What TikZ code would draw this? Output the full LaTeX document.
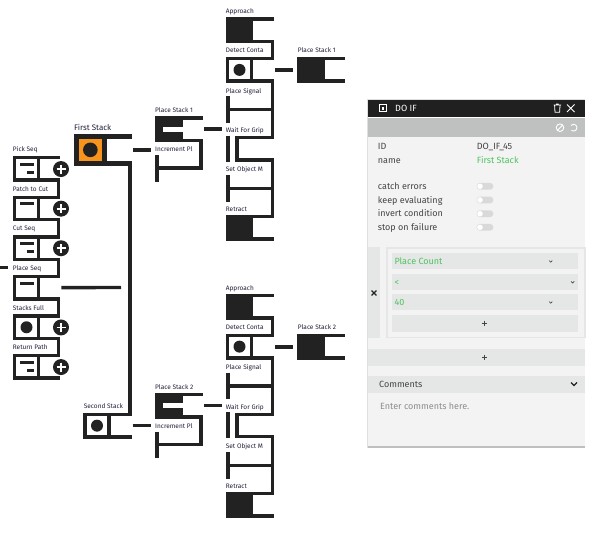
\documentclass[tikz,border=0pt]{standalone}
\usepackage{fontspec}
\setmainfont{Fira Sans}
\definecolor{ink}{HTML}{222222}
\definecolor{stackorange}{HTML}{F7941D}
\definecolor{okgreen}{HTML}{4DC35F}
\definecolor{panelbg}{HTML}{F3F3F3}
\definecolor{fieldbg}{HTML}{E5E6E6}
\definecolor{headgray}{HTML}{BFC0C0}
\definecolor{txtgray}{HTML}{444444}
\tikzset{
    bar/.style={draw=ink,line width=3.4pt},
    cell/.style={draw=ink,fill=white,line width=3.4pt,minimum width=24.2pt,minimum height=22.4pt,inner sep=0pt,outer sep=0pt},
    solidcell/.style={cell,fill=ink},
    dotmark/.style={circle,fill=ink,minimum size=12pt,inner sep=0pt},
    addbtn/.style={circle,fill=ink,minimum size=16pt,inner sep=0pt},
    seqlabel/.style={anchor=base west,inner sep=0pt,font=\fontsize{6.5}{8}\selectfont,text=ink!90!blue},
    paneltext/.style={anchor=base west,inner sep=0pt,font=\fontsize{9}{10}\selectfont,text=txtgray},
    greentext/.style={paneltext,text=okgreen},
    chev/.style={draw=txtgray,line width=.7pt},
    plusmark/.style={draw=txtgray,line width=.7pt}
}
\begin{document}
\begin{tikzpicture}[x=1pt,y=-1pt]
\useasboundingbox (0,0) rectangle (600,533);
% sequence column
\foreach \t/\n/\txt in {156/pick/Pick Seq,195.6/patch/Patch to Cut,235.2/cutseq/Cut Seq,274.8/placeseq/Place Seq,314.4/stacks/Stacks Full,354/ret/Return Path}
{
    \node[cell] (\n) at (26.5,\t+12.85) {};
    \node[seqlabel] (\n-label) at (12.7,\t-4.4) {\txt};
}
\draw[bar] (pick.north east) -- ++(21.7,0);
\draw[bar] (ret.south east) -- ++(21.7,0);
\foreach \a/\b in {pick/patch,patch/cutseq,cutseq/placeseq,placeseq/stacks,stacks/ret}
{
    \draw[bar] (\a.south east) -- ++(20,0) |- (\b.north east);
}
\foreach \n in {pick,cutseq,ret}
{
    \fill[ink] (\n.center) ++(-7,-6) rectangle ++(14,3);
    \fill[ink] (\n.center) ++(0,2) rectangle ++(7,3);
}
\foreach \n in {patch,placeseq}
{
    \fill[ink] (\n.center) ++(-7,-6) rectangle ++(14,3);
}
\node[dotmark] (stacksdot) at (stacks) {};
\foreach \n in {pick,patch,cutseq,stacks,ret}
{
    \node[addbtn] (\n-add) at ([shift={(34.5,0.2)}]\n.center) {};
    \draw[white,line width=1.8pt] (\n-add.center) ++(-4.5,0) -- ++(9,0) (\n-add.center) ++(0,-4.5) -- ++(0,9);
}
\coordinate (offleft) at (0,267.5);
\coordinate (seqend) at (121,287.5);
\draw[bar,shorten >=4.5pt] (offleft) -- (offleft -| placeseq-label.west);
\draw[bar,shorten <=22.7pt] (placeseq.east) -- (seqend);
% the two stacks
\node[solidcell,fill=stackorange,line width=4.5pt,minimum width=28.2pt,minimum height=27.2pt] (first) at (90.35,149.85) {};
\node[dotmark,minimum size=14.6pt] (firstdot) at (first) {};
\node[cell] (second) at (97,425.65) {};
\node[dotmark] (seconddot) at (second) {};
\node[seqlabel,font=\fontsize{8}{10}\selectfont] (firstlabel) at (74,130) {First Stack};
\node[seqlabel] (secondlabel) at (83.7,408.4) {Second Stack};
\draw[bar,line width=4.5pt] (first.north east) -- ++(27.25,0);
\draw[bar,line width=4.5pt] (first.south east) -- ++(27.25,0);
\draw[bar] (first.south east) -- ++(25.55,0) |- (second.north east);
\draw[bar] (second.south east) -- ++(22.6,0);
% one group for each stack
\foreach \dy/\n in {0/1,276.7/2}
{
\begin{scope}[shift={(0,\dy)}]
    \node[solidcell] (place\n) at (168.85,129) {};
    \fill[white] (162.7,126.7) rectangle (182.8,131.7);
    \node[seqlabel] (placelabel\n) at (155,112.3) {Place Stack \n};
    \node[seqlabel] (incr\n) at (155,151.6) {Increment Pl};
    \draw[bar] (place\n.north east) -- ++(21.75,0);
    \coordinate (tee\n) at (157,168);
    \draw[bar] (place\n.south east) -- ++(20.05,0) |- (tee\n);
    \draw[bar,line width=4pt] (tee\n) ++(0,-13) -- ++(0,26.5);
    \node[solidcell] (approach\n) at (239.5,30.2) {};
    \node[cell] (detect\n) at (239.5,69.9) {};
    \node[dotmark] (detectdot\n) at (detect\n) {};
    \node[solidcell] (retract\n) at (239.5,227.9) {};
    \node[solidcell] (target\n) at (311.1,69.9) {};
    \node[seqlabel] (approachlabel\n) at (225.7,13.6) {Approach};
    \node[seqlabel] (detectlabel\n) at (225.7,52.3) {Detect Conta};
    \node[seqlabel] (signal\n) at (225.7,93) {Place Signal};
    \node[seqlabel] (wait\n) at (225.7,132.3) {Wait For Grip};
    \node[seqlabel] (setobject\n) at (225.7,171.6) {Set Object M};
    \node[seqlabel] (retractlabel\n) at (225.7,211.3) {Retract};
    \node[seqlabel] (targetlabel\n) at (297.7,52.6) {Place Stack \n};
    \draw[bar,line width=4pt,shorten <=23.4pt,shorten >=5.7pt] (detect\n) -- (target\n);
    \draw[bar,shorten <=23pt,shorten >=4pt] (place\n.east) -- (place\n.east -| wait\n.west);
    \draw[bar] (approach\n.north east) -- ++(22.4,0);
    \draw[bar] (approach\n.south east) -- ++(20.7,0) |- (detect\n.north east);
    \draw[bar] (target\n.north east) -- ++(21.8,0);
    \draw[bar] (target\n.south east) -- ++(21.8,0);
    % tees and the gripper bracket on the rail
    \coordinate (teea\n) at (227.8,109.3);
    \coordinate (teeb\n) at (227.8,188.7);
    \draw[bar] (detect\n.south east) -- ++(20.7,0) |- (teea\n);
    \draw[bar] (272.3,109.3) -- (272.3,137.5) -- (236.9,137.5) -- (236.9,160) -- (274,160);
    \draw[bar] (272.3,160) |- (teeb\n);
    \draw[bar] (272.3,188.7) |- (retract\n.north east);
    \draw[bar] (retract\n.south east) -- ++(22.4,0);
    \draw[bar,line width=4.3pt] (teea\n) ++(0,-13.3) -- ++(0,26.6);
    \draw[bar,line width=4.3pt] (teeb\n) ++(0,-13.3) -- ++(0,26.6);
    \draw[bar,line width=4.3pt] (227.8,135.7) -- (227.8,161.7);
\end{scope}
}
\draw[bar,shorten <=28.3pt,shorten >=4.3pt] (first.east) -- (first.east -| incr1.west);
\draw[bar,shorten <=23.6pt,shorten >=4.3pt] (second.east) -- (second.east -| incr2.west);
% properties panel
\fill[gray!25] (367,99) rectangle (585,447.5);
\fill[gray!50] (367.5,445.5) rectangle (585,447.5);
\fill[ink!95!black] (368,99.5) rectangle (585,117);
\fill[white] (368,117) rectangle (585,118.3);
\fill[headgray] (368,118.3) rectangle (585,136.7);
\fill[panelbg] (368,136.7) rectangle (585,445.5);
\draw[white,line width=.9pt] (379,104.8) rectangle (386.5,111.8);
\fill[white] (381.5,107) rectangle (384,109.5);
\node[paneltext,text=white] (paneltitle) at (395,111.5) {DO IF};
\draw[white,line width=.8pt] (554.6,105.5) -- (555,112.3) -- (559.6,112.3) -- (560,105.5) (553.5,105) -- (561,105) (556,104) -- (558.6,104);
\draw[white,line width=.8pt] (567,104.5) -- (574.5,112) (574.5,104.5) -- (567,112);
\draw[white,line width=.9pt] (560,127.7) circle (3.8pt) (557.3,130.4) -- (562.7,125);
\draw[white,line width=.9pt] (571,125.5) arc[start angle=140,end angle=-130,radius=3.4pt];
\node[paneltext] (idkey) at (377.7,149.7) {ID};
\node[paneltext] (namekey) at (377.7,163.7) {name};
\node[paneltext] (idvalue) at (476.7,149.7) {DO\_IF\_45};
\node[greentext] (namevalue) at (476.7,163.7) {First Stack};
\foreach \y/\n/\txt in {186.3/catch/catch errors,200/keep/keep evaluating,213.7/invert/invert condition,227.3/stop/stop on failure}
{
    \node[paneltext] (\n-key) at (377.7,\y+3) {\txt};
    \fill[gray!30,rounded corners=3.2pt] (476.7,\y-3.4) rectangle (493.3,\y+3.4);
    \fill[white] (480,\y) circle (2.8pt);
}
\fill[fieldbg] (368,247.3) rectangle (380,338.3);
\draw[ink,line width=1.3pt] (371.6,290.6) -- (376.4,295.4) (376.4,290.6) -- (371.6,295.4);
\draw[fieldbg,line width=1.6pt] (386.8,248.1) rectangle (585,337.5);
\fill[fieldbg] (392,253.3) rectangle (578,269);
\fill[fieldbg] (392,274) rectangle (578,289.7);
\fill[fieldbg] (392,294.3) rectangle (578,310);
\fill[fieldbg] (392,314.7) rectangle (578,332);
\node[greentext] (placecount) at (394.3,264.3) {Place Count};
\node[greentext] (lessthan) at (394.3,285.3) {<};
\node[greentext] (forty) at (394.3,305.6) {40};
\foreach \x/\y in {550.7/261.4,572.7/282.2,550.7/302.4}
{
    \draw[chev] (\x-1.6,\y-.8) -- (\x,\y+.8) -- (\x+1.6,\y-.8);
}
\fill[fieldbg] (368,348.7) rectangle (585,366);
\foreach \y in {323.3,357.7}
{
    \draw[plusmark] (482,\y) -- (487.4,\y) (484.7,\y-2.7) -- (484.7,\y+2.7);
}
\fill[fieldbg] (368,375.7) rectangle (585,393);
\node[paneltext] (commentskey) at (379,387.2) {Comments};
\draw[ink,line width=1.2pt] (571,382.5) -- (574,385.5) -- (577,382.5);
\node[paneltext,text=gray!90] (commentshint) at (380,409.7) {Enter comments here.};
\end{tikzpicture}
\end{document}
